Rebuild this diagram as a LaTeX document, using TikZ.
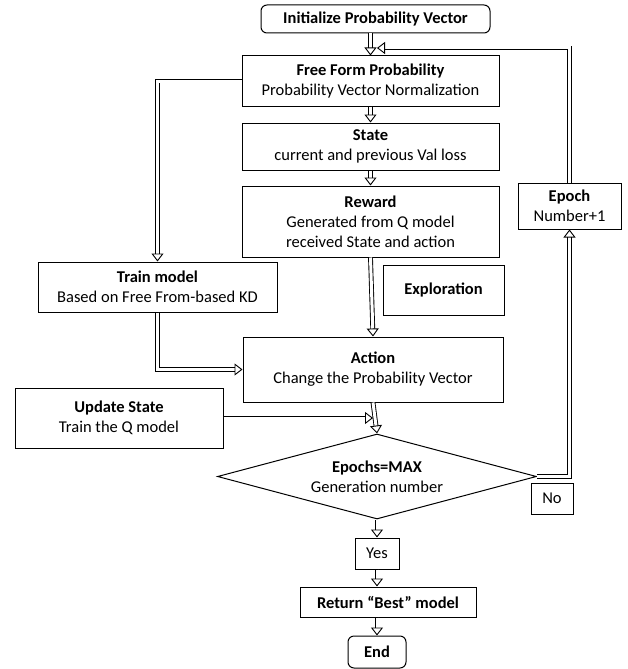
\documentclass[tikz,border=0pt]{standalone}
\usepackage{fontspec}
\setmainfont{Carlito}
\usetikzlibrary{arrows.meta, positioning, shapes.geometric}

\begin{document}
\begin{tikzpicture}[
    x=1pt, y=-1pt,
    font=\fontsize{16.5}{20}\selectfont,
    every node/.style={align=center, inner sep=2pt},
    box/.style={rectangle, draw, line width=1pt},
    term/.style={rectangle, draw, line width=1pt, rounded corners=6pt},
    test/.style={diamond, draw, line width=1pt, aspect=3.75, inner sep=0pt},
    line/.style={double, double distance=3pt, line width=0.9pt, -{Triangle[open, width=12pt, length=8pt]}}
]
\useasboundingbox (0,0) rectangle (627,669);
\node[term, minimum width=229pt, minimum height=28pt] (init) at (375.5,19) {\textbf{Initialize Probability Vector}};
\node[box, minimum width=257pt, minimum height=50pt] (free) at (370.5,81) {\textbf{Free Form Probability}\\
    Probability Vector Normalization};
\node[box, minimum width=257pt, minimum height=47pt] (state) at (370.5,146.5) {\textbf{State}\\
    current and previous Val loss};
\node[box, minimum width=257pt, minimum height=71pt] (reward) at (370.5,221.5) {\textbf{Reward}\\
    Generated from Q model\\
    received State and action};
\node[box, minimum width=121pt, minimum height=50pt] (explore) at (443.5,290) {\textbf{Exploration}};
\node[box, minimum width=239pt, minimum height=50pt] (train) at (157.5,287) {\textbf{Train model}\\
    Based on Free From-based KD};
\node[box, minimum width=260pt, minimum height=65pt] (action) at (373,369.5) {\textbf{Action}\\
    Change the Probability Vector};
\node[box, minimum width=208pt, minimum height=60pt] (update) at (119,418) {\textbf{Update State}\\
    Train the Q model};
\node[test, minimum width=319pt, minimum height=85pt] (maxtest) at (377,476.5) {\textbf{Epochs=MAX}\\
    Generation number};
\node[box, minimum width=42pt, minimum height=31pt] (no) at (552,498.5) {No};
\node[box, minimum width=103pt, minimum height=46pt] (epoch) at (569.5,206) {\textbf{Epoch}\\
    Number+1};
\node[box, minimum width=44pt, minimum height=31pt] (yes) at (377,553.5) {Yes};
\node[box, minimum width=176pt, minimum height=30pt] (best) at (388,602) {\textbf{Return ``Best'' model}};
\node[term, minimum width=58pt, minimum height=32pt] (finish) at (377,652) {\textbf{End}};
\coordinate (merge) at (377,48);
\draw[line] (init.south -| free.north) -- (free.north);
\draw[line] (epoch.north) |- (merge);
\draw[line] (free.south) -- (state.north);
\draw[line] (state.south) -- (reward.north);
\draw[line] (reward.south) -- (action.north);
\draw[line] (free.west) -| (train.north);
\draw[line] (train.south) |- (action.west);
\draw[line] (update.east) -- (update.east -| action.south);
\draw[line] (action.south) -- (maxtest.north);
\draw[line] (maxtest.east) -| (epoch.south);
\draw[line] (maxtest.south) -- (yes.north);
\draw[line] (yes.south) -- (yes.south |- best.north);
\draw[line] (yes.south |- best.south) -- (finish.north);
\end{tikzpicture}
\end{document}
